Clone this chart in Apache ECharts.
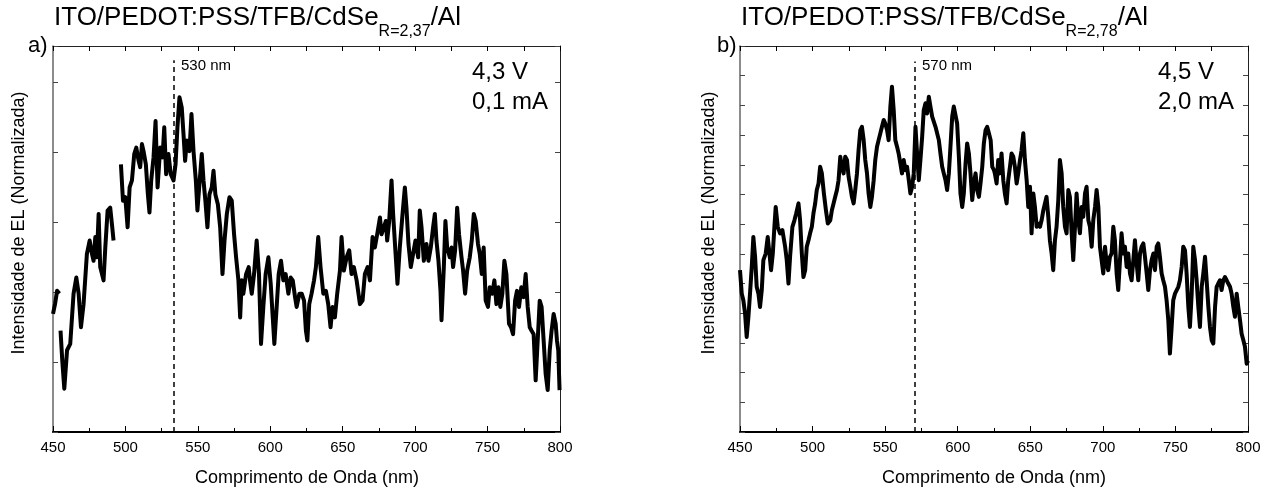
<!DOCTYPE html>
<html>
<head>
<meta charset="utf-8">
<script src="https://cdn.jsdelivr.net/npm/echarts@6/dist/echarts.min.js"></script>
<style>
html,body{margin:0;padding:0;background:#fff;}
#chart{width:1272px;height:489px;}
</style>
</head>
<body>
<div id="chart"></div>
<script>
// ---- data ----
const xTicks = [450, 500, 550, 600, 650, 700, 750, 800];

const waveA = [450.0,451.4,452.8,454.4,455.0,455.2,456.4,457.8,459.7,461.9,464.2,466.1,467.7,469.3,471.1,473.4,475.3,476.9,478.0,479.2,480.3,481.5,482.6,484.9,486.1,487.7,489.5,490.9,491.8,494.0,
496.9,498.3,499.9,501.5,502.9,504.5,506.1,507.5,509.1,510.2,511.4,512.5,514.1,515.5,516.6,517.8,519.4,520.8,522.2,524.0,525.6,526.8,528.1,529.7,531.3,533.2,534.6,535.9,537.3,538.9,
540.1,541.2,542.4,544.2,545.6,547.0,548.6,549.7,551.1,552.7,553.9,555.2,556.6,558.0,559.6,560.8,562.1,563.8,565.4,567.0,568.4,570.0,571.8,573.4,575.0,576.4,578.0,579.2,580.3,581.4,
583.3,585.1,586.0,587.2,588.8,590.6,592.2,593.6,595.2,596.8,598.7,600.3,601.7,602.8,604.4,605.8,607.4,609.0,610.6,612.5,614.1,615.5,617.1,618.2,620.1,621.7,623.3,624.6,625.6,626.9,
628.5,630.2,631.5,633.1,634.7,636.6,638.4,640.0,641.6,643.0,644.6,646.2,648.1,649.2,650.8,652.7,654.5,656.1,657.7,659.6,661.9,663.7,665.3,667.2,668.8,670.6,672.2,673.8,675.7,676.8,
678.4,679.8,680.7,682.1,683.7,684.8,686.5,687.8,689.4,691.3,692.9,694.0,695.4,697.0,698.6,700.2,702.1,703.2,704.4,706.0,707.8,709.2,710.8,712.4,713.6,714.7,716.1,717.5,718.2,719.8,
720.9,722.1,723.9,725.1,726.2,727.6,729.0,730.3,732.0,733.1,734.5,735.9,737.7,739.1,740.5,741.8,743.4,744.6,746.0,747.3,748.7,750.3,751.5,753.3,754.7,756.1,757.5,758.8,760.2,761.6,
763.0,764.8,766.2,767.6,769.0,770.3,771.7,773.3,774.9,776.3,777.7,779.1,780.4,781.8,783.2,784.6,786.0,787.3,788.7,790.1,791.5,792.9,794.2,795.6,797.0,797.9,798.8,799.7];

const intensityA = [1.69,1.83,2.02,1.98,null,1.45,1.02,0.62,1.17,1.26,1.98,2.21,1.98,1.50,1.83,2.55,2.74,2.55,2.45,2.79,2.50,3.12,2.36,2.17,2.64,3.17,3.21,2.93,2.74,null,
3.83,3.31,3.36,2.93,3.50,3.60,3.98,4.07,3.88,3.79,4.12,4.02,3.83,3.40,3.14,3.60,3.93,4.45,3.50,4.07,3.93,4.36,3.69,3.98,3.69,3.60,3.83,4.36,4.79,4.64,
4.26,3.88,4.17,4.02,4.55,4.02,3.60,3.17,3.55,3.98,3.60,3.31,2.93,3.40,3.50,3.74,3.40,3.26,2.93,2.26,2.74,3.12,3.36,3.31,2.83,2.50,2.17,1.64,2.17,1.98,
2.26,2.36,2.17,1.98,2.26,2.74,2.26,1.26,1.79,2.26,2.50,2.12,1.64,1.26,1.79,2.26,2.45,2.17,2.26,1.98,2.21,2.17,1.93,1.79,1.98,1.98,1.88,1.45,1.31,1.83,
1.98,2.17,2.36,2.79,2.36,1.98,2.02,1.83,1.50,1.79,1.64,1.98,2.31,2.79,2.31,2.50,2.60,2.26,2.36,2.17,1.83,1.88,2.26,2.36,2.17,2.79,2.64,2.83,3.07,2.83,
2.93,3.02,2.74,3.02,3.60,3.12,2.55,2.12,2.64,3.12,3.50,3.21,2.69,2.36,2.55,2.74,2.50,3.17,2.93,2.45,2.69,2.45,2.64,2.93,3.12,2.74,2.45,2.02,1.60,2.36,
3.02,2.64,2.50,2.64,2.36,2.60,3.21,2.83,2.50,2.31,1.98,2.31,2.50,2.74,3.12,3.02,2.69,2.55,2.26,2.64,1.88,1.79,2.07,1.98,2.17,1.83,2.07,1.79,1.98,2.45,
2.26,1.55,1.50,1.40,1.88,2.02,1.79,2.07,1.93,2.26,1.79,1.50,1.45,1.40,0.74,1.31,1.88,1.79,1.31,0.83,0.60,1.17,1.45,1.69,1.55,1.31,1.17,0.60];

const waveB = [450.0,451.2,452.3,453.5,454.6,455.8,456.9,458.1,459.2,460.4,461.5,462.7,463.8,465.0,466.1,467.7,469.1,470.3,471.4,472.6,473.7,474.6,476.0,477.6,479.2,481.1,482.2,483.4,484.5,486.1,
487.5,488.7,490.3,491.4,492.6,493.7,494.9,496.0,497.2,498.3,499.5,500.6,501.8,502.9,504.1,505.2,506.4,507.8,509.2,510.5,512.2,513.3,514.5,515.6,516.8,517.9,519.1,520.2,521.4,522.5,
523.7,524.8,526.0,527.1,528.3,529.4,530.6,531.7,532.9,534.0,535.2,536.3,537.5,538.6,539.8,540.9,542.1,543.2,544.4,545.5,546.7,547.8,549.0,550.1,551.3,552.4,553.6,554.7,555.9,557.0,
558.2,559.3,560.5,561.6,562.8,563.9,565.1,566.3,567.4,568.6,569.7,570.9,572.0,573.2,574.3,575.5,576.6,577.8,578.9,580.1,581.2,582.4,583.5,584.7,585.8,587.0,588.1,589.3,590.4,591.6,
592.7,593.9,595.0,596.2,597.3,598.5,599.6,600.8,601.9,603.1,604.2,605.4,606.5,607.7,608.8,610.0,611.1,612.3,613.4,614.6,615.7,616.9,618.0,619.2,620.3,621.5,622.7,623.8,625.0,625.6,
626.8,627.9,629.1,630.2,631.4,632.5,633.7,634.8,636.0,637.1,638.3,639.4,640.6,641.7,642.9,644.0,645.2,646.3,647.5,648.6,649.8,650.9,652.1,653.2,654.4,655.5,656.7,657.8,659.0,660.1,
661.2,662.4,663.5,664.7,665.8,667.0,668.1,669.3,670.4,671.6,672.7,673.9,675.0,676.2,677.3,678.5,679.6,680.8,681.9,683.1,684.2,685.4,686.5,687.7,688.8,690.0,691.1,692.3,693.4,694.6,
695.7,696.9,698.0,699.2,700.3,701.5,702.6,703.7,704.9,706.0,707.2,708.3,709.5,710.6,711.8,712.9,714.1,715.2,716.4,717.5,718.7,719.8,721.0,722.1,723.3,724.4,725.6,726.7,727.9,729.0,
730.2,731.3,732.5,733.6,734.8,735.9,737.1,738.2,739.3,740.5,741.6,742.8,743.9,745.1,746.2,747.4,748.5,749.7,750.8,752.0,753.1,754.3,755.4,756.6,757.7,758.9,760.0,761.2,762.3,763.5,
764.6,765.8,766.9,768.1,769.2,770.4,771.5,772.7,773.8,775.0,776.1,777.3,778.4,779.5,780.7,781.8,783.0,784.1,785.3,786.4,787.6,788.7,789.9,791.0,792.2,793.3,794.5,795.6,796.8,797.9,
799.1,800.0];

const intensityB = [5.45,4.66,4.44,3.99,3.20,3.88,4.66,5.56,6.57,5.90,4.89,4.66,4.21,4.78,5.79,6.01,6.57,6.01,5.45,6.01,6.91,7.58,6.91,6.69,6.80,6.24,5.79,5.00,5.90,6.91,
7.13,7.36,7.70,7.13,6.01,5.22,5.45,6.24,6.46,6.69,6.91,7.36,7.70,8.15,8.37,8.93,8.71,8.03,7.47,7.02,7.13,7.47,7.70,7.92,8.15,8.48,9.27,8.93,8.71,9.27,
9.16,8.60,8.26,7.92,7.70,8.15,8.71,9.49,10.17,10.28,9.83,9.16,8.71,8.03,7.58,7.92,8.48,9.16,9.61,9.83,10.06,10.28,10.51,10.39,10.17,9.83,10.96,11.63,10.84,9.83,
9.61,9.38,9.04,8.71,9.16,8.82,8.93,8.48,8.03,8.26,8.71,10.28,9.38,8.48,9.16,9.94,10.84,11.07,10.73,11.29,10.96,10.62,10.62,10.28,10.28,9.83,9.38,8.93,8.71,8.48,
8.15,8.71,9.61,10.62,10.96,10.96,10.39,9.27,8.03,7.58,8.03,9.04,9.72,9.38,8.71,7.81,8.37,8.71,8.15,7.92,8.37,8.93,9.72,10.17,10.28,10.06,9.83,8.93,8.82,8.71,
8.37,9.16,8.71,9.38,8.48,8.03,7.70,8.48,8.93,9.38,9.27,8.93,8.37,8.71,9.16,9.49,10.06,9.16,8.48,7.58,8.26,6.69,8.03,7.58,6.91,7.02,6.91,7.13,7.47,7.70,
7.92,7.25,6.46,6.01,5.45,6.46,6.91,7.81,9.16,8.71,7.58,6.91,6.69,8.15,7.92,6.69,5.79,6.91,8.03,7.13,6.69,7.58,7.25,8.03,8.26,7.13,6.91,6.24,7.13,7.58,
8.15,7.58,6.24,6.24,5.34,6.24,5.67,5.45,5.90,6.01,6.91,6.46,5.34,4.78,5.79,6.69,6.01,6.24,5.56,6.01,5.34,5.11,5.79,6.46,5.67,5.11,6.01,6.24,6.35,5.90,
5.34,4.78,5.45,5.79,6.01,5.45,6.24,6.35,5.90,5.34,5.11,4.89,4.44,3.76,2.64,3.54,4.44,4.66,4.66,4.89,5.11,5.56,6.24,6.12,5.34,4.21,3.54,4.66,6.24,5.79,
5.11,4.21,3.54,4.89,5.34,5.90,5.11,4.21,3.54,3.09,2.98,4.21,4.89,5.00,5.11,4.78,5.11,5.22,5.11,5.00,4.89,4.66,4.21,3.88,4.66,4.21,3.76,3.31,3.09,2.87,
2.30,2.40];

const peakA = 533.2;   // dashed marker, labelled 530 nm
const peakB = 570.2;   // dashed marker, labelled 570 nm
const yMaxA = 5.524, yMaxB = 13;
const markTopA = 5.32, markTopB = 12.48;

// ---- chart ----
const FONT = '"Liberation Sans", Arial, sans-serif';
const chart = echarts.init(document.getElementById('chart'), null, {renderer: 'canvas'});

const ctx = document.createElement('canvas').getContext('2d');
function tw(str, size) { ctx.font = size + 'px "Liberation Sans"'; return ctx.measureText(str).width; }

function titleGraphics(x, sub) {
  const main = 'ITO/PEDOT:PSS/TFB/CdSe';
  const w1 = tw(main, 26), w2 = tw(sub, 16);
  const base = {fill: '#000', fontFamily: FONT};
  return [
    {type: 'text', left: x, top: 5, style: Object.assign({text: main, fontSize: 26}, base)},
    {type: 'text', left: x + w1, top: 24, style: Object.assign({text: sub, fontSize: 16}, base)},
    {type: 'text', left: x + w1 + w2, top: 5, style: Object.assign({text: '/Al', fontSize: 26}, base)}
  ];
}

function txt(x, y, text, size, extra) {
  return Object.assign({type: 'text', x: x, y: y,
    style: {text: text, fontSize: size, fontFamily: FONT, fill: '#000', textAlign: 'left', textVerticalAlign: 'middle'}}, extra || {});
}

function xAxes(gi) {
  const common = {type: 'value', gridIndex: gi, min: 450, max: 800, interval: 50, splitLine: {show: false}};
  return [
    Object.assign({}, common, {
      position: 'bottom',
      axisLine: {onZero: false, lineStyle: {color: '#000', width: 2}},
      axisTick: {inside: true, length: 6, lineStyle: {color: '#000', width: 1}},
      minorTick: {show: true, splitNumber: 2, length: 4, lineStyle: {color: '#000', width: 1}},
      axisLabel: {color: '#000', fontSize: 15, fontFamily: FONT, margin: 8,
        formatter: v => (xTicks.indexOf(v) >= 0 ? String(v) : '')}
    }),
    Object.assign({}, common, {
      position: 'top',
      axisLine: {onZero: false, lineStyle: {color: '#222', width: 1}},
      axisTick: {inside: true, length: 5, lineStyle: {color: '#000'}},
      minorTick: {show: true, splitNumber: 2, length: 5, lineStyle: {color: '#000'}},
      axisLabel: {show: false}
    })
  ];
}

function yAxes(gi, max) {
  const common = {type: 'value', gridIndex: gi, min: 0, max: max, interval: 1, splitLine: {show: false}, axisLabel: {show: false}};
  return [
    Object.assign({}, common, {position: 'left',
      axisLine: {show: true, onZero: false, lineStyle: {color: '#666', width: 1.5}},
      axisTick: {inside: true, length: 5, lineStyle: {color: '#444'}}}),
    Object.assign({}, common, {position: 'right',
      axisLine: {show: true, onZero: false, lineStyle: {color: '#222', width: 1}},
      axisTick: {inside: true, length: 5, lineStyle: {color: '#444'}}})
  ];
}

function seriesFor(gi, waves, vals, peak, top) {
  return {
    type: 'line', xAxisIndex: gi * 2, yAxisIndex: gi * 2,
    data: waves.map((w, i) => [w, vals[i]]),
    showSymbol: false, symbol: 'none', connectNulls: false,
    lineStyle: {color: '#000', width: 4, join: 'round'},
    animation: false,
    markLine: {
      silent: true, symbol: 'none', label: {show: false},
      lineStyle: {color: '#000', type: [5, 4], width: 1.5},
      data: [[{coord: [peak, 0]}, {coord: [peak, top]}]]
    }
  };
}

const option = {
  animation: false,
  backgroundColor: '#fff',
  grid: [
    {left: 53, top: 46, width: 507, height: 386},
    {left: 740, top: 46, width: 508, height: 386}
  ],
  xAxis: xAxes(0).concat(xAxes(1)),
  yAxis: yAxes(0, yMaxA).concat(yAxes(1, yMaxB)),
  series: [
    seriesFor(0, waveA, intensityA, peakA, markTopA),
    seriesFor(1, waveB, intensityB, peakB, markTopB)
  ],
  graphic: [].concat(
    titleGraphics(54, 'R=2,37'),
    titleGraphics(741, 'R=2,78'),
    [
      txt(28, 46, 'a)', 22),
      txt(717, 46, 'b)', 22),
      txt(181, 66, '530 nm', 15),
      txt(922, 66, '570 nm', 15),
      txt(472, 72, '4,3 V', 24),
      txt(472, 102, '0,1 mA', 24),
      txt(1158, 72, '4,5 V', 24),
      txt(1158, 102, '2,0 mA', 24),
      {type: 'text', x: 19, y: 223, rotation: Math.PI / 2,
        style: {text: 'Intensidade de EL (Normalizada)', fontSize: 18, fontFamily: FONT, fill: '#000', textAlign: 'center', textVerticalAlign: 'middle'}},
      {type: 'text', x: 709, y: 223, rotation: Math.PI / 2,
        style: {text: 'Intensidade de EL (Normalizada)', fontSize: 18, fontFamily: FONT, fill: '#000', textAlign: 'center', textVerticalAlign: 'middle'}},
      {type: 'text', x: 307, y: 478,
        style: {text: 'Comprimento de Onda (nm)', fontSize: 18, fontFamily: FONT, fill: '#000', textAlign: 'center', textVerticalAlign: 'middle'}},
      {type: 'text', x: 994, y: 478,
        style: {text: 'Comprimento de Onda (nm)', fontSize: 18, fontFamily: FONT, fill: '#000', textAlign: 'center', textVerticalAlign: 'middle'}}
    ]
  )
};
chart.setOption(option);
</script>
</body>
</html>
